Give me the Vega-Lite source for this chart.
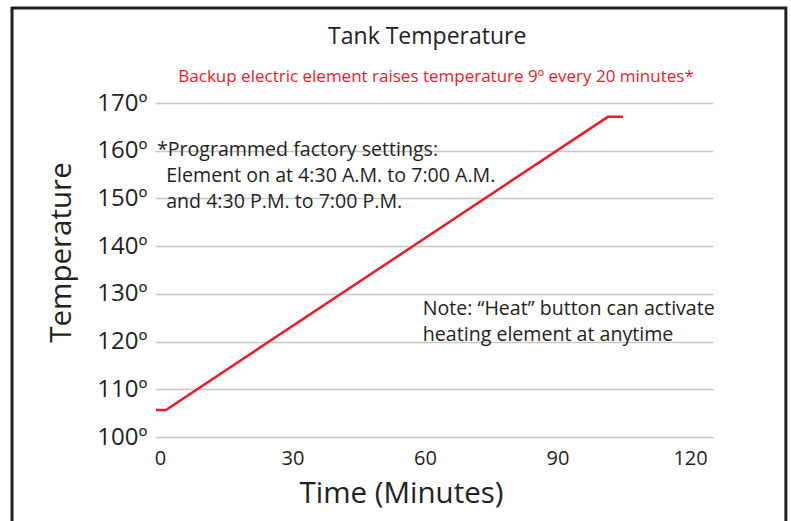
{
  "$schema": "https://vega.github.io/schema/vega-lite/v6.json",
  "width": 558,
  "height": 334,
  "autosize": {"type": "none"},
  "padding": {"left": 155, "top": 103, "right": 78, "bottom": 84},
  "background": "white",
  "config": {
    "view": {"stroke": null},
    "font": "Open Sans",
    "axis": {"labelColor": "#231f20", "titleColor": "#231f20", "titleFontWeight": "normal"}
  },
  "datasets": {
    "line": [
      {"t": -0.9, "temp": 105.66},
      {"t": 1.36, "temp": 105.66},
      {"t": 101.4, "temp": 167.1},
      {"t": 104.8, "temp": 167.1}
    ],
    "notes": [
      {"t": -0.7, "temp": 160.2, "label": "*Programmed factory settings:"},
      {"t": 1.4, "temp": 154.7, "label": "Element on at 4:30 A.M. to 7:00 A.M."},
      {"t": 1.4, "temp": 149.3, "label": "and 4:30 P.M. to 7:00 P.M."},
      {"t": 59.5, "temp": 126.8, "label": "Note: “Heat” button can activate"},
      {"t": 59.5, "temp": 121.4, "label": "heating element at anytime"}
    ],
    "titles": [
      {"t": 60.5, "temp": 183.8, "label": "Tank Temperature"}
    ],
    "subtitles": [
      {"t": 62.5, "temp": 175.5, "label": "Backup electric element raises temperature 9º every 20 minutes*"}
    ],
    "frame": [
      {"t0": -33.5, "t1": 141.7, "temp0": 78.4, "temp1": 189.9}
    ]
  },
  "layer": [
    {
      "data": {"name": "frame"},
      "mark": {"type": "rect", "fill": null, "stroke": "#231f20", "strokeWidth": 3, "clip": false},
      "encoding": {
        "x": {"field": "t0", "type": "quantitative", "scale": {"domain": [-1.13, 125.2], "nice": false, "zero": false}},
        "x2": {"field": "t1"},
        "y": {"field": "temp0", "type": "quantitative", "scale": {"domain": [100, 170], "nice": false, "zero": false}},
        "y2": {"field": "temp1"}
      }
    },
    {
      "data": {"name": "line"},
      "mark": {"type": "line", "color": "#ed1c24", "strokeWidth": 2.5},
      "encoding": {
        "x": {
          "field": "t", "type": "quantitative",
          "scale": {"domain": [-1.13, 125.2], "nice": false, "zero": false},
          "axis": {
            "values": [0, 30, 60, 90, 120],
            "grid": false, "domain": false, "ticks": false,
            "labelFontSize": 20, "labelPadding": 11,
            "title": "Time (Minutes)", "titleFontSize": 29.5, "titlePadding": 11, "titleX": 246
          }
        },
        "y": {
          "field": "temp", "type": "quantitative",
          "scale": {"domain": [100, 170], "nice": false, "zero": false},
          "axis": {
            "values": [100, 110, 120, 130, 140, 150, 160, 170],
            "labelExpr": "datum.value + 'º'",
            "grid": true, "gridColor": "#c8c8c8", "gridWidth": 1.5,
            "domain": false, "ticks": false,
            "labelFontSize": 24, "labelPadding": 8,
            "title": "Temperature", "titleFontSize": 29.5, "titlePadding": 20, "titleY": 149
          }
        }
      }
    },
    {
      "data": {"name": "notes"},
      "mark": {"type": "text", "align": "left", "baseline": "middle", "fontSize": 19.6, "color": "#231f20"},
      "encoding": {
        "x": {"field": "t", "type": "quantitative"},
        "y": {"field": "temp", "type": "quantitative"},
        "text": {"field": "label"}
      }
    },
    {
      "data": {"name": "titles"},
      "mark": {"type": "text", "align": "center", "baseline": "middle", "fontSize": 23, "color": "#231f20"},
      "encoding": {
        "x": {"field": "t", "type": "quantitative"},
        "y": {"field": "temp", "type": "quantitative"},
        "text": {"field": "label"}
      }
    },
    {
      "data": {"name": "subtitles"},
      "mark": {"type": "text", "align": "center", "baseline": "middle", "fontSize": 17, "color": "#ed1c24"},
      "encoding": {
        "x": {"field": "t", "type": "quantitative"},
        "y": {"field": "temp", "type": "quantitative"},
        "text": {"field": "label"}
      }
    }
  ]
}
